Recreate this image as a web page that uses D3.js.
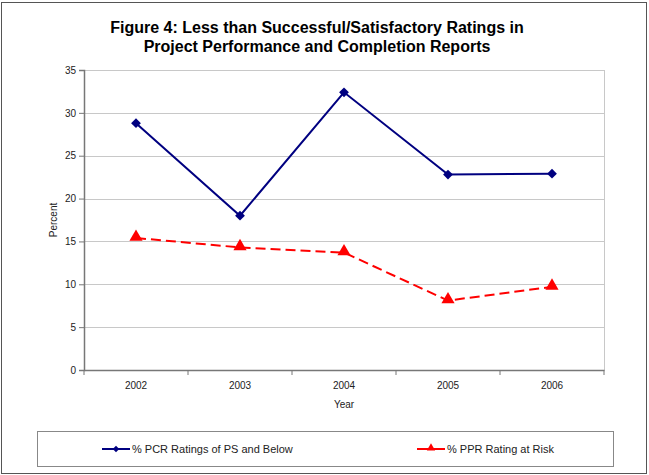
<!DOCTYPE html>
<html>
<head>
<meta charset="utf-8">
<script src="https://cdn.jsdelivr.net/npm/d3@7"></script>
<style>
  body { margin: 0; background: #fff; }
  text { font-family: "Liberation Sans", Arial, sans-serif; fill: #222; }
</style>
</head>
<body>
<div id="chart"></div>
<script>
const years = ["2002", "2003", "2004", "2005", "2006"];
const pcrValues = [28.8, 18.0, 32.4, 22.8, 22.9];
const pprValues = [15.4, 14.3, 13.7, 8.1, 9.7];
const yTicks = [0, 5, 10, 15, 20, 25, 30, 35];
const titleLines = ["Figure 4: Less than Successful/Satisfactory Ratings in", "Project Performance and Completion Reports"];
const seriesNames = ["% PCR Ratings of PS and Below", "% PPR Rating at Risk"];

const W = 649, H = 475;
const margin = { top: 70, right: 45, bottom: 105, left: 84 };
const width = W - margin.left - margin.right;
const height = H - margin.top - margin.bottom;

const root = d3.select("#chart").append("svg")
    .attr("width", W)
    .attr("height", H);

// outer frame
root.append("rect")
    .attr("x", 1.5).attr("y", 2.5)
    .attr("width", 645).attr("height", 471)
    .attr("fill", "none")
    .attr("stroke", "#555")
    .attr("stroke-width", 1);

root.selectAll(".title")
    .data(titleLines)
    .enter().append("text")
    .attr("x", 317)
    .attr("y", (d, i) => 33 + i * 19)
    .attr("text-anchor", "middle")
    .style("font-size", "16px")
    .style("font-weight", "bold")
    .style("fill", "#000")
    .text(d => d);

const svg = root.append("g")
    .attr("transform", `translate(${margin.left},${margin.top})`);

const x = d3.scaleBand().domain(years).range([0, width]);
const y = d3.scaleLinear().domain([0, 35]).range([height, 0]);

// gridlines
svg.selectAll(".grid")
    .data(yTicks.slice(1))
    .enter().append("line")
    .attr("x1", 0).attr("x2", width)
    .attr("y1", d => Math.round(y(d)) + 0.5)
    .attr("y2", d => Math.round(y(d)) + 0.5)
    .attr("stroke", "#c8c8c8");

// plot area right border
svg.append("line")
    .attr("x1", width + 0.5).attr("x2", width + 0.5)
    .attr("y1", 0).attr("y2", height)
    .attr("stroke", "#c8c8c8");

const yAxis = svg.append("g")
    .call(d3.axisLeft(y).tickValues(yTicks).tickSize(5).tickPadding(3));
yAxis.select(".domain").attr("stroke", "#777").attr("stroke-width", 1.5);
yAxis.selectAll(".tick line").attr("stroke", "#777");
yAxis.selectAll("text").style("font-size", "10px").style("fill", "#222");

const xAxis = svg.append("g")
    .attr("transform", `translate(0,${height})`)
    .call(d3.axisBottom(x).tickSize(0).tickPadding(12));
xAxis.select(".domain").attr("stroke", "#777").attr("stroke-width", 1.5);
xAxis.selectAll("text").style("font-size", "10px").style("fill", "#222");

// tick marks between categories
svg.selectAll(".xtick")
    .data(d3.range(years.length + 1))
    .enter().append("line")
    .attr("x1", i => x.step() * i)
    .attr("x2", i => x.step() * i)
    .attr("y1", height)
    .attr("y2", height + 5)
    .attr("stroke", "#777");

svg.append("text")
    .attr("x", width / 2)
    .attr("y", height + 38)
    .attr("text-anchor", "middle")
    .style("font-size", "10px")
    .text("Year");

svg.append("text")
    .attr("transform", "rotate(-90)")
    .attr("x", -height / 2)
    .attr("y", -27)
    .attr("text-anchor", "middle")
    .style("font-size", "10px")
    .text("Percent");

const cx = d => x(d) + x.bandwidth() / 2;
const line = d3.line()
    .x((d, i) => cx(years[i]))
    .y(d => y(d));

svg.append("path")
    .datum(pcrValues)
    .attr("fill", "none")
    .attr("stroke", "#000080")
    .attr("stroke-width", 2)
    .attr("d", line);

svg.append("path")
    .datum(pprValues)
    .attr("fill", "none")
    .attr("stroke", "#ff0000")
    .attr("stroke-width", 2)
    .attr("stroke-dasharray", "10,5")
    .attr("d", line);

const diamond = d3.symbol().type(d3.symbolSquare).size(48);
const triangle = d3.symbol().type(d3.symbolTriangle).size(75);

svg.selectAll(".pcr")
    .data(pcrValues)
    .enter().append("path")
    .attr("transform", (d, i) => `translate(${cx(years[i])},${y(d)}) rotate(45)`)
    .attr("d", diamond)
    .attr("fill", "#000080");

svg.selectAll(".ppr")
    .data(pprValues)
    .enter().append("path")
    .attr("transform", (d, i) => `translate(${cx(years[i])},${y(d) - 1})`)
    .attr("d", triangle)
    .attr("fill", "#ff0000");

// legend
const legend = root.append("g");
legend.append("rect")
    .attr("x", 37.5).attr("y", 431.5)
    .attr("width", 576).attr("height", 35)
    .attr("fill", "#fff")
    .attr("stroke", "#888");

const legendItems = [
    { name: seriesNames[0], color: "#000080", x0: 102, rot: 45 },
    { name: seriesNames[1], color: "#ff0000", x0: 417, rot: 0 }
];
legendItems.forEach(it => {
    legend.append("line")
        .attr("x1", it.x0).attr("x2", it.x0 + 28)
        .attr("y1", 449).attr("y2", 449)
        .attr("stroke", it.color)
        .attr("stroke-width", 2);
    legend.append("path")
        .attr("transform", `translate(${it.x0 + 14},${it.rot ? 449 : 448}) rotate(${it.rot})`)
        .attr("d", it.rot ? d3.symbol().type(d3.symbolSquare).size(22)() : d3.symbol().type(d3.symbolTriangle).size(30)())
        .attr("fill", it.color);
    legend.append("text")
        .attr("x", it.x0 + 30)
        .attr("y", 453)
        .style("font-size", "11px")
        .text(it.name);
});
</script>
</body>
</html>
